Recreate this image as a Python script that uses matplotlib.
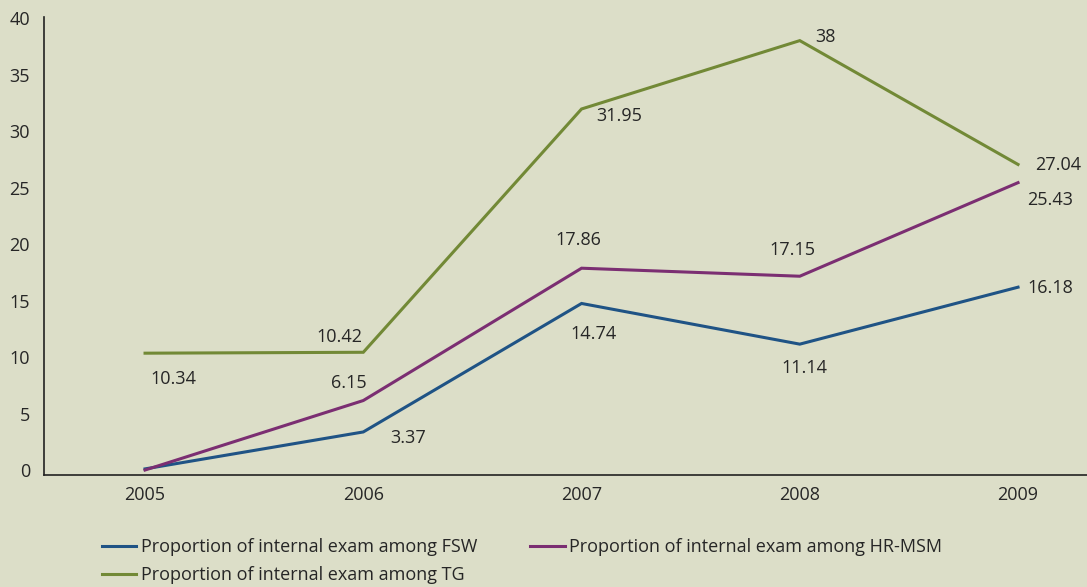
import matplotlib
matplotlib.use("Agg")
import matplotlib.pyplot as plt

years = ["2005", "2006", "2007", "2008", "2009"]
fsw = [0.1, 3.37, 14.74, 11.14, 16.18]
hrmsm = [0.0, 6.15, 17.86, 17.15, 25.43]
tg = [10.34, 10.42, 31.95, 38.0, 27.04]

fsw_labels = [None, "3.37", "14.74", "11.14", "16.18"]
hrmsm_labels = [None, "6.15", "17.86", "17.15", "25.43"]
tg_labels = ["10.34", "10.42", "31.95", "38", "27.04"]

names = ["Proportion of internal exam among FSW",
         "Proportion of internal exam among TG",
         "Proportion of internal exam among HR-MSM"]

# label offsets in pixels (dx, dy; +dy is up)
fsw_off = [(0, 0), (45, -6), (12, -31), (5, -24), (32, -1)]
hrmsm_off = [(0, 0), (-14, 18), (-3, 28), (-7, 26), (32, -17)]
tg_off = [(28, -26), (-24, 15), (38, -7), (26, 4), (40, -1)]

BG = "#DCDEC8"
C_FSW = "#1F5385"
C_HR = "#7B2E72"
C_TG = "#728936"
TXT = "#262626"

plt.rcParams['font.family'] = ['Open Sans', 'DejaVu Sans']

fig = plt.figure(figsize=(10.87, 5.87), dpi=100, facecolor=BG)
ax = fig.add_axes([44/1087, 1 - 475/587, (1087-44)/1087, (475-17)/587])
ax.set_facecolor(BG)

x = list(range(len(years)))
l1, = ax.plot(x, fsw, color=C_FSW, lw=2.2, solid_joinstyle='miter')
l3, = ax.plot(x, hrmsm, color=C_HR, lw=2.2, solid_joinstyle='miter')
l2, = ax.plot(x, tg, color=C_TG, lw=2.2, solid_joinstyle='miter')

for vals, labs, offs in [(fsw, fsw_labels, fsw_off), (hrmsm, hrmsm_labels, hrmsm_off), (tg, tg_labels, tg_off)]:
    for xi, v, lab, off in zip(x, vals, labs, offs):
        if lab is None:
            continue
        ax.annotate(lab, (xi, v), xytext=off, textcoords='offset pixels',
                    ha='center', va='center', fontsize=13, color=TXT)

ax.set_xlim(-0.463, 4.316)
ax.set_ylim(-0.44, 40.09)
ax.set_yticks(range(0, 41, 5))
ax.set_xticks(x)
ax.set_xticklabels(years)
ax.tick_params(axis='both', length=0, labelsize=13, labelcolor=TXT)
ax.tick_params(axis='y', pad=10)
ax.tick_params(axis='x', pad=8)
for s in ['top', 'right']:
    ax.spines[s].set_visible(False)
for s in ['left', 'bottom']:
    ax.spines[s].set_color('#222222')
    ax.spines[s].set_linewidth(1.2)

leg = fig.legend([l1, l2, l3], names, loc='upper left',
                 bbox_to_anchor=(102/1087, 1 - 538/587), ncol=2, frameon=False,
                 fontsize=13, handlelength=1.9, handletextpad=0.25,
                 columnspacing=2.95, labelspacing=0.58, borderaxespad=0, borderpad=0)
for t in leg.get_texts():
    t.set_color(TXT)

fig.savefig("out.png", dpi=100, facecolor=BG)
